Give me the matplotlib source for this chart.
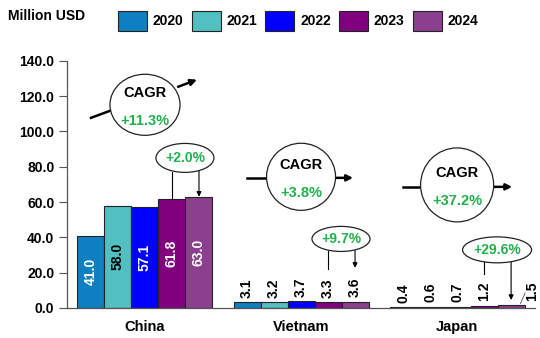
import numpy as np
import matplotlib.pyplot as plt
from matplotlib.patches import Ellipse, Patch

plt.rcParams['font.family'] = ['Liberation Sans', 'DejaVu Sans']
plt.rcParams['font.weight'] = 'bold'

# Export value by market and year (million USD)
countries = ['China', 'Vietnam', 'Japan']
years = ['2020', '2021', '2022', '2023', '2024']
values = {
    '2020': [41.0, 3.1, 0.4],
    '2021': [58.0, 3.2, 0.6],
    '2022': [57.1, 3.7, 0.7],
    '2023': [61.8, 3.3, 1.2],
    '2024': [63.0, 3.6, 1.5],
}
cagr = ['+11.3%', '+3.8%', '+37.2%']
yoy = ['+2.0%', '+9.7%', '+29.6%']

colors = ['#0E7FC0', '#52BFC0', '#0000FF', '#800080', '#8C3F8E']
green = '#22B04B'

fig = plt.figure(figsize=(5.4, 3.38), dpi=100)
ax = fig.add_axes([0.124, 0.089, 0.867, 0.731])

x = np.arange(len(countries))
w = 0.173
for i, yr in enumerate(years):
    pos = x + (i - 2) * w
    ax.bar(pos, values[yr], width=w, color=colors[i], edgecolor='#222222',
           linewidth=0.8, zorder=2)
    for j, v in enumerate(values[yr]):
        lbl = f'{v:.1f}'
        if v > 20:
            tc = 'black' if yr == '2021' else 'white'
            ax.text(pos[j], v / 2, lbl, rotation=90, ha='center', va='center',
                    color=tc, fontsize=10, fontweight='bold', zorder=3)
        elif j == 2 and i == 4:
            # last label pushed aside with a leader line
            ax.plot([pos[j] + 0.06, pos[j] + 0.09], [v + 1.0, v + 7.0],
                    color='#555555', lw=0.6, clip_on=False)
            ax.text(pos[j] + 0.135, v + 2.5, lbl, rotation=90, ha='center',
                    va='bottom', fontsize=10, fontweight='bold', clip_on=False)
        else:
            ax.text(pos[j], v + 2.5, lbl, rotation=90, ha='center',
                    va='bottom', fontsize=10, fontweight='bold')

# CAGR bubbles with trend arrows
cagr_y = [115.1, 74.3, 69.7]
cagr_w = [0.449, 0.442, 0.468]
cagr_h = [34.6, 38.0, 41.9]
trend_in = [((-0.346, 107.7), (-0.224, 111.7)),
            ((-0.346, 73.7), (-0.224, 73.7)),
            ((-0.346, 68.6), (-0.237, 68.6))]
trend_out = [((0.212, 125.3), (0.333, 129.3)),
             ((0.218, 73.7), (0.333, 73.7)),
             ((0.231, 68.6), (0.353, 68.6))]
for j in range(len(countries)):
    ax.add_patch(Ellipse((x[j], cagr_y[j]), cagr_w[j], cagr_h[j], facecolor='white',
                         edgecolor='#222222', lw=0.9, zorder=4, clip_on=False))
    ax.text(x[j], cagr_y[j] + 6.5, 'CAGR', ha='center', va='center',
            fontsize=10.5, fontweight='bold', zorder=5)
    ax.text(x[j], cagr_y[j] - 9.0, cagr[j], ha='center', va='center',
            fontsize=10.5, fontweight='bold', color=green, zorder=5)
    (a0, a1) = trend_in[j]
    ax.plot([x[j] + a0[0], x[j] + a1[0]], [a0[1], a1[1]], color='black', lw=1.8, zorder=3)
    (b0, b1) = trend_out[j]
    ax.annotate('', xy=(x[j] + b1[0], b1[1]), xytext=(x[j] + b0[0], b0[1]),
                arrowprops=dict(arrowstyle='-|>', color='black', lw=1.8,
                                mutation_scale=9, shrinkA=0, shrinkB=0), zorder=3)

# Year-on-year bubbles (2023 -> 2024)
yoy_y = [85.0, 39.1, 32.9]
yoy_w = [0.372, 0.372, 0.442]
yoy_h = [16.4, 14.2, 14.7]
stem_end = [values['2023'][0], 22.1, 19.3]
arrow_end = [values['2024'][0], 22.7, 4.5]
for j in range(len(countries)):
    cx = x[j] + 0.256
    ax.add_patch(Ellipse((cx, yoy_y[j]), yoy_w[j], yoy_h[j], facecolor='white',
                         edgecolor='#222222', lw=0.9, zorder=4, clip_on=False))
    ax.text(cx, yoy_y[j], yoy[j], ha='center', va='center', fontsize=10,
            fontweight='bold', color=green, zorder=5)
    x23 = x[j] + w
    x24 = x[j] + 2 * w
    ax.plot([x23, x23], [yoy_y[j] - yoy_h[j] * 0.48, stem_end[j]],
            color='black', lw=0.8, zorder=3)
    ax.annotate('', xy=(x24, arrow_end[j]), xytext=(x24, yoy_y[j] - yoy_h[j] * 0.44),
                arrowprops=dict(arrowstyle='-|>', color='black', lw=0.8,
                                mutation_scale=7, shrinkA=0, shrinkB=0), zorder=3)

ax.set_xlim(-0.5, 2.5)
ax.set_ylim(0, 140)
ax.set_yticks(np.arange(0, 141, 20))
ax.set_yticklabels([f'{t:.1f}' for t in np.arange(0, 141, 20)])
ax.set_xticks(x)
ax.set_xticklabels(countries)
ax.tick_params(axis='x', length=0, pad=9, labelsize=10.5)
ax.tick_params(axis='y', length=6, width=0.8, color='#555555', labelsize=10, pad=3)
for s in ['top', 'right']:
    ax.spines[s].set_visible(False)
for s in ['left', 'bottom']:
    ax.spines[s].set_color('#555555')
    ax.spines[s].set_linewidth(0.9)

fig.text(0.015, 0.952, 'Million USD', fontsize=10, fontweight='bold', va='center')
handles = [Patch(facecolor=c, edgecolor='#222222', linewidth=0.8) for c in colors]
fig.legend(handles, years, loc='center left', bbox_to_anchor=(0.218, 0.938),
           ncol=5, frameon=False, fontsize=10, handlelength=2.1, handleheight=1.9,
           handletextpad=0.4, columnspacing=0.6, borderaxespad=0, borderpad=0)

fig.savefig('out.png', dpi=100)
